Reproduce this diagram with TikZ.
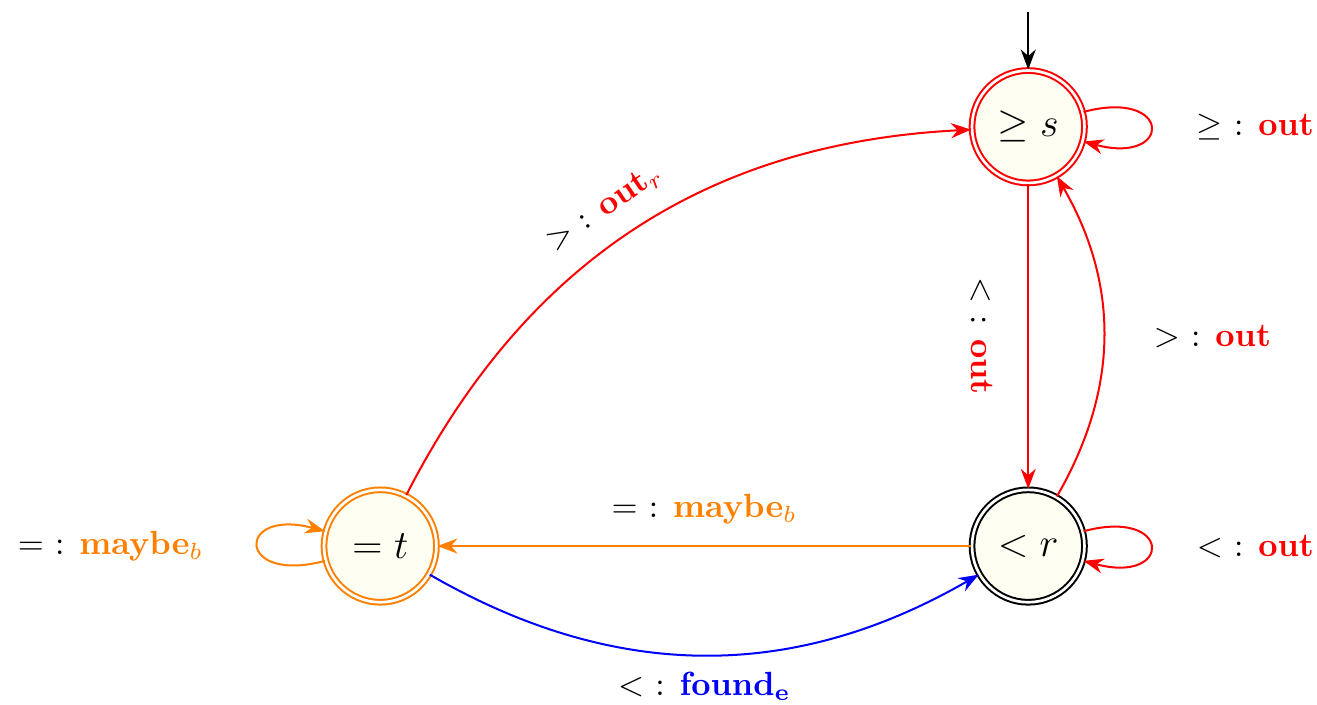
\documentclass[tikz,border=0pt]{standalone}
\usepackage{amsmath,amssymb}
\usetikzlibrary{arrows.meta,positioning}

\begin{document}
\begin{tikzpicture}[
  node distance=4.4cm and 6.8cm, on grid,
  st/.style={circle, draw, semithick, double, double distance=0.8pt,
    fill=yellow!5, minimum size=1.18cm, inner sep=0pt, font=\large},
  arr/.style={-{Stealth[length=2.1mm]}, semithick},
  lbl/.style={text=black}
]
  \useasboundingbox (-3.99,-1.66) rectangle (9.83,5.73);

  \node[st, draw=orange] (t) {$=t$};
  \node[st, draw=black, right=of t] (r) {$<r$};
  \node[st, draw=red, above=of r] (s) {$\geq s$};
  \coordinate[above=0.6cm of s.north] (init);

  \draw[arr] (init) -- (s);
  \draw[arr, red] (s) to[loop right] node[lbl, right=0.36cm]
    {$\geq$ : \textcolor{red}{\textbf{out}}} (s);
  \draw[arr, red] (s) -- node[lbl, sloped, below=0.24cm]
    {$<$ : \textcolor{red}{\textbf{out}}} (r);
  \draw[arr, red] (r) to[bend right=30] node[lbl, right=0.4cm]
    {$>$ : \textcolor{red}{\textbf{out}}} (s);
  \draw[arr, red] (r) to[loop right] node[lbl, right=0.36cm]
    {$<$ : \textcolor{red}{\textbf{out}}} (r);
  \draw[arr, orange] (r) -- node[lbl, above=1mm]
    {$=$ : \textcolor{orange}{\textbf{maybe}$_b$}} (t);
  \draw[arr, orange] (t) to[loop left] node[lbl, left=0.45cm]
    {$=$ : \textcolor{orange}{\textbf{maybe}$_b$}} (t);

  % the two long bends
  \draw[arr, red] (t) to[bend left=30] node[lbl, sloped, above=1mm, pos=0.48]
    {$>$ : \textcolor{red}{\textbf{out}$_r$}} (s);
  \draw[arr, blue] (t) to[bend right=30] node[lbl, below=0.5mm]
    {$<$ : \textcolor{blue}{\textbf{found}$_{\mathbf{e}}$}} (r);
\end{tikzpicture}
\end{document}
